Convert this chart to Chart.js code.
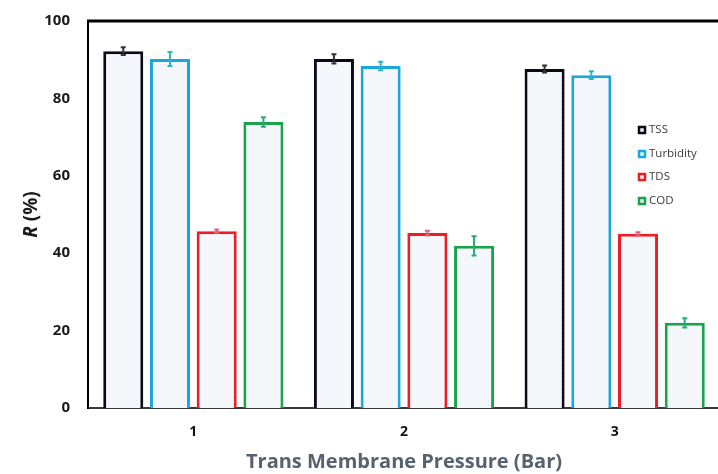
<!DOCTYPE html>
<html>
<head>
<meta charset="utf-8">
<script src="https://cdn.jsdelivr.net/npm/chart.js@4.4.1/dist/chart.umd.min.js"></script>
<style>
  html, body { margin: 0; padding: 0; background: #fff; overflow: hidden; }
  #wrap { width: 722px; height: 474px; }
</style>
</head>
<body>
<div id="wrap"><canvas id="c" width="722" height="474"></canvas></div>
<script>
// Transmembrane pressure levels (bar)
const pressures = ['1', '2', '3'];

// Rejection (%) per parameter
const tss       = [92.2, 90.2, 87.6];
const turbidity = [90.2, 88.4, 86.0];
const tds       = [45.7, 45.2, 45.0];
const cod       = [73.9, 41.9, 22.0];

// Standard deviations
const tssErr       = [1.0, 1.2, 0.9];
const turbidityErr = [1.8, 1.1, 1.0];
const tdsErr       = [0.4, 0.6, 0.4];
const codErr       = [1.2, 2.5, 1.2];

const yTicks = [0, 20, 40, 60, 80, 100];

// Faint cross-hatched fill used inside every bar
function hatchPattern() {
  const p = document.createElement('canvas');
  p.width = 4; p.height = 4;
  const g = p.getContext('2d');
  g.fillStyle = '#f8f9fc';
  g.fillRect(0, 0, 4, 4);
  g.fillStyle = '#e9ecf3';
  g.fillRect(0, 0, 1, 1);
  g.fillRect(2, 2, 1, 1);
  return g.createPattern(p, 'repeat');
}
const fill = hatchPattern();

const series = [
  { label: 'TSS',       data: tss,       err: tssErr,       color: '#0b0b16', errColor: '#333333' },
  { label: 'Turbidity', data: turbidity, err: turbidityErr, color: '#1ba6de', errColor: '#2ab7c8' },
  { label: 'TDS',       data: tds,       err: tdsErr,       color: '#ee1c25', errColor: '#e0607a' },
  { label: 'COD',       data: cod,       err: codErr,       color: '#19a44c', errColor: '#2aa87a' }
];

// Error bars drawn from each bar's value and deviation
const errorBars = {
  id: 'errorBars',
  afterDatasetsDraw(chart) {
    const ctx = chart.ctx;
    const y = chart.scales.y;
    chart.data.datasets.forEach((ds, i) => {
      const meta = chart.getDatasetMeta(i);
      meta.data.forEach((bar, j) => {
        const v = ds.data[j], e = ds.err[j];
        const yt = y.getPixelForValue(v + e);
        const yb = y.getPixelForValue(v - e);
        ctx.save();
        ctx.strokeStyle = ds.errColor;
        ctx.lineWidth = 2;
        ctx.beginPath();
        ctx.moveTo(bar.x, yt); ctx.lineTo(bar.x, yb);
        ctx.moveTo(bar.x - 2.5, yt); ctx.lineTo(bar.x + 2.5, yt);
        ctx.moveTo(bar.x - 2.5, yb); ctx.lineTo(bar.x + 2.5, yb);
        ctx.stroke();
        ctx.restore();
      });
    });
  }
};

// Top frame line, y-axis title (italic R) and the legend block inside the plot
const frameAndLegend = {
  id: 'frameAndLegend',
  afterDraw(chart) {
    const ctx = chart.ctx;
    const a = chart.chartArea;
    ctx.save();
    ctx.strokeStyle = '#000';
    ctx.lineWidth = 3;
    ctx.beginPath();
    ctx.moveTo(a.left - 1, a.top);
    ctx.lineTo(a.right + 2, a.top);
    ctx.stroke();

    // y-axis title
    ctx.save();
    ctx.translate(32, (a.top + a.bottom) / 2);
    ctx.rotate(-Math.PI / 2);
    ctx.textBaseline = 'middle';
    ctx.fillStyle = '#1a1a1a';
    const fR = 'italic bold 19px "Open Sans", sans-serif';
    const fP = 'bold 19px "Open Sans", sans-serif';
    ctx.font = fR; const wR = ctx.measureText('R').width;
    ctx.font = fP; const wP = ctx.measureText(' (%)').width;
    let x = -(wR + wP) / 2;
    ctx.textAlign = 'left';
    ctx.font = fR; ctx.fillText('R', x, 0);
    ctx.font = fP; ctx.fillText(' (%)', x + wR, 0);
    ctx.restore();

    // legend
    ctx.font = '11.5px "Open Sans", sans-serif';
    ctx.textBaseline = 'middle';
    ctx.textAlign = 'left';
    const x0 = 638, ys = [130, 154, 177, 201];
    chart.data.datasets.forEach((ds, i) => {
      const yy = ys[i];
      ctx.fillStyle = '#eef2f6';
      ctx.fillRect(x0, yy - 4, 8, 8);
      ctx.strokeStyle = ds.borderColor;
      ctx.lineWidth = 2.5;
      ctx.strokeRect(x0 + 1, yy - 3, 6, 6);
      ctx.fillStyle = '#3a3a3a';
      ctx.fillText(ds.label, x0 + 11, yy);
    });
    ctx.restore();
  }
};

new Chart(document.getElementById('c'), {
  type: 'bar',
  data: {
    labels: pressures,
    datasets: series.map(s => ({
      label: s.label,
      data: s.data,
      err: s.err,
      errColor: s.errColor,
      backgroundColor: fill,
      borderColor: s.color,
      borderWidth: 3,
      categoryPercentage: 0.887,
      barPercentage: 0.857
    }))
  },
  options: {
    responsive: false,
    animation: false,
    devicePixelRatio: 1,
    layout: { padding: { left: 0, top: 21, right: 2, bottom: 0 } },
    plugins: { legend: { display: false }, tooltip: { enabled: false } },
    scales: {
      x: {
        grid: { display: false, drawTicks: false },
        border: { display: true, color: '#3a3a3a', width: 2 },
        ticks: {
          padding: 16,
          color: '#111',
          font: { family: '"Open Sans", sans-serif', size: 14, weight: 'bold' }
        },
        title: {
          display: true,
          text: 'Trans Membrane Pressure (Bar)',
          color: '#58616e',
          padding: { top: 0, bottom: 0 },
          font: { family: '"Open Sans", sans-serif', size: 20, weight: 'bold' }
        },
        afterFit(s) { s.height = 66; s.paddingLeft = 0; s.paddingRight = 0; }
      },
      y: {
        min: 0, max: 100,
        grid: { display: false, drawTicks: false },
        border: { display: true, color: '#000', width: 2 },
        afterBuildTicks(s) { s.ticks = yTicks.map(v => ({ value: v })); },
        ticks: {
          padding: 18,
          color: '#1a1a1a',
          font: { family: '"Open Sans", sans-serif', size: 15, weight: 'bold' }
        },
        afterFit(s) { s.width = 88; s.paddingTop = 0; s.paddingBottom = 0; }
      }
    }
  },
  plugins: [errorBars, frameAndLegend]
});
</script>
</body>
</html>
